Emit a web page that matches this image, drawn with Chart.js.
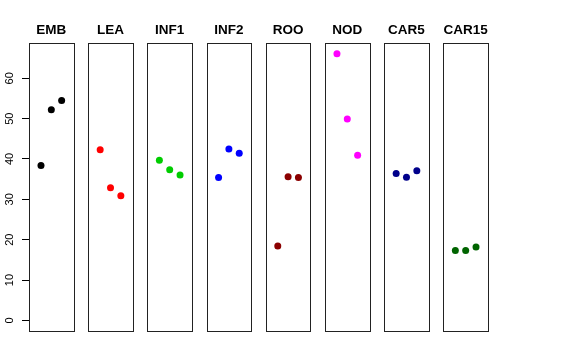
<!DOCTYPE html>
<html>
<head>
<meta charset="utf-8">
<script src="https://cdn.jsdelivr.net/npm/chart.js@4"></script>
<style>
  html, body { margin: 0; padding: 0; background: #fff; }
  #wrap { width: 576px; height: 360px; }
</style>
</head>
<body>
<div id="wrap"><canvas id="chartPaneles"></canvas></div>
<script>
// panels (one per tissue), three values each
const panels = ['EMB', 'LEA', 'INF1', 'INF2', 'ROO', 'NOD', 'CAR5', 'CAR15'];
const emb   = [38.4, 52.2, 54.5];
const lea   = [42.3, 32.9, 30.9];
const inf1  = [39.7, 37.3, 36.0];
const inf2  = [35.4, 42.5, 41.4];
const roo   = [18.4, 35.6, 35.4];
const nod   = [66.1, 49.9, 40.9];
const car5  = [36.4, 35.5, 37.1];
const car15 = [17.3, 17.3, 18.2];
const yTicks = [0, 10, 20, 30, 40, 50, 60];

const values = [emb, lea, inf1, inf2, roo, nod, car5, car15];
const colors = ['#000000', '#FF0000', '#00CD00', '#0000FF', '#8B0000', '#FF00FF', '#00008B', '#006400'];

// each panel is a little box in x units: points at 1,2,3 inside a 0..4 range (+4%)
const PITCH = 5.73;
const BOX = 4.32;
const PAD = 0.16;
const panelLeft = i => i * PITCH;

const datasets = values.map((vals, i) => ({
  label: panels[i],
  data: vals.map((v, j) => ({ x: panelLeft(i) + PAD + j + 1, y: v })),
  backgroundColor: colors[i],
  borderColor: colors[i],
  pointRadius: 3.5,
  pointBorderWidth: 0,
  showLine: false
}));

const panelBoxes = {
  id: 'panelBoxes',
  afterDatasetsDraw(chart) {
    const { ctx, chartArea, scales } = chart;
    const x = scales.x;
    ctx.save();
    ctx.strokeStyle = '#222';
    ctx.lineWidth = 1;
    panels.forEach((p, i) => {
      const l = Math.round(x.getPixelForValue(panelLeft(i))) + 0.5;
      const r = Math.round(x.getPixelForValue(panelLeft(i) + BOX)) + 0.5;
      const t = Math.round(chartArea.top) + 0.5;
      const b = Math.round(chartArea.bottom) + 0.5;
      ctx.strokeRect(l, t, r - l, b - t);
    });
    ctx.restore();
  }
};

const ctx = document.getElementById('chartPaneles');

new Chart(ctx, {
  type: 'scatter',
  data: { datasets },
  options: {
    responsive: true,
    maintainAspectRatio: false,
    animation: false,
    layout: { padding: { top: 0, left: 0, right: 88, bottom: 29 } },
    plugins: {
      legend: { display: false },
      tooltip: { enabled: false }
    },
    scales: {
      x: {
        type: 'linear',
        display: false,
        min: 0,
        max: 7 * PITCH + BOX
      },
      xTop: {
        type: 'linear',
        position: 'top',
        min: 0,
        max: 7 * PITCH + BOX,
        grid: { display: false, drawTicks: false },
        border: { display: false },
        afterBuildTicks(scale) {
          scale.ticks = panels.map((p, i) => ({ value: panelLeft(i) + BOX / 2 }));
        },
        afterFit(scale) { scale.height = 43; },
        ticks: {
          autoSkip: false,
          maxRotation: 0,
          padding: 5,
          color: '#000',
          font: { family: 'Liberation Sans, Arial, sans-serif', size: 13.5, weight: 'bold' },
          callback: (v, idx) => panels[idx]
        }
      },
      y: {
        min: -2.64,
        max: 68.75,
        afterBuildTicks(scale) {
          scale.ticks = yTicks.map(v => ({ value: v }));
        },
        afterFit(scale) { scale.width = 29; },
        grid: { drawOnChartArea: false, drawTicks: true, tickLength: 7, color: '#000' },
        border: { display: false },
        ticks: {
          minRotation: 90,
          maxRotation: 90,
          crossAlign: 'center',
          padding: 6,
          color: '#000',
          font: { family: 'Liberation Sans, Arial, sans-serif', size: 11 }
        }
      }
    }
  },
  plugins: [panelBoxes]
});
</script>
</body>
</html>
